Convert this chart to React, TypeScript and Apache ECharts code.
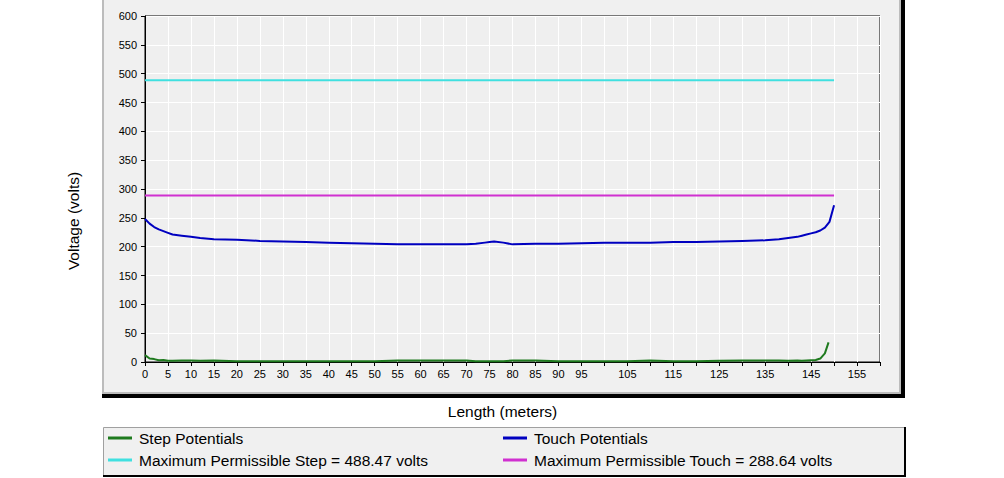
import React, { useEffect, useRef } from "react";
import * as echarts from "echarts";

const touchDistances = [0, 1, 2, 3, 4, 5, 6, 8, 10, 12, 15, 20, 25, 30, 35, 40, 45, 50, 55, 60, 65, 70, 72, 74, 75, 76, 78, 80, 85, 90, 95, 100, 105, 110, 115, 120, 125, 130, 135, 138, 140, 142, 143, 144, 145, 146, 147, 148, 149, 150];
const touchValues = [248, 240, 234, 230, 227, 224, 221, 219, 217, 215, 213, 212, 210, 209, 208, 207, 206, 205, 204, 204, 204, 204, 205, 207, 208, 209, 207, 204, 205, 205, 206, 207, 207, 207, 208, 208, 209, 210, 211, 213, 215, 217, 219, 221, 223, 225, 228, 233, 243, 272];

const stepDistances = [0, 1, 2, 3, 4, 5, 6, 8, 10, 12, 15, 20, 25, 30, 35, 40, 45, 50, 55, 60, 65, 70, 72, 75, 78, 80, 85, 90, 95, 100, 105, 110, 115, 120, 125, 130, 135, 138, 140, 142, 143, 144, 145, 146, 147, 148, 148.8];
const stepValues = [12, 6, 5, 3, 3.5, 2, 2, 2.5, 2.5, 2, 2.5, 1.5, 1.5, 1.5, 1.5, 1.5, 1.5, 1.5, 2.5, 2.5, 2.5, 2.5, 1.5, 1.5, 1.5, 2.5, 2.5, 1.5, 1.5, 1.5, 1.5, 2.5, 1.5, 1.5, 2, 2.5, 2.5, 2.5, 2, 2.5, 2, 2.5, 3, 3.5, 6, 15, 34];

const maxStep = 488.47;
const maxTouch = 288.64;
const limitRange = [0, 150];

const xTickStep = 5;
const yTickStep = 50;

const seriesNames = [
  "Step Potentials",
  "Touch Potentials",
  "Maximum Permissible Step = 488.47 volts",
  "Maximum Permissible Touch = 288.64 volts",
];

const FONT = "Arial, 'Liberation Sans', sans-serif";

export default function App() {
  const ref = useRef<HTMLDivElement>(null);
  useEffect(() => {
    if (!ref.current) return;
    const chart = echarts.init(ref.current, undefined, { renderer: "svg" });
    const pair = (xs: number[], ys: number[]) => xs.map((x, i) => [x, ys[i]]);
    const legendCommon = {
      orient: "vertical",
      top: 430,
      padding: 0,
      itemGap: 6,
      itemWidth: 24,
      itemHeight: 3,
      icon: "rect",
      textStyle: { fontSize: 15.5, color: "#000", fontFamily: FONT, padding: [0, 0, 0, 2] },
    };
    chart.setOption({
      animation: false,
      backgroundColor: "#ffffff",
      textStyle: { fontFamily: FONT },
      graphic: [
        { type: "rect", z: -10, silent: true, shape: { x: 102, y: -5, width: 803, height: 403 }, style: { fill: "#000000" } },
        { type: "rect", z: -9, silent: true, shape: { x: 103, y: -2, width: 797, height: 395 }, style: { fill: "#f0f0f0", stroke: "#bcbcbc", lineWidth: 2 } },
        { type: "rect", z: -10, silent: true, shape: { x: 103.5, y: 427.5, width: 801, height: 48 }, style: { fill: "#f0f0f0", stroke: "#a0a0a0", lineWidth: 1 } },
        { type: "line", z: -9, silent: true, shape: { x1: 103, y1: 476, x2: 905, y2: 476 }, style: { stroke: "#000000", lineWidth: 2 } },
        { type: "line", z: -9, silent: true, shape: { x1: 905, y1: 427, x2: 905, y2: 477 }, style: { stroke: "#000000", lineWidth: 2 } },
      ],
      grid: {
        left: 145,
        top: 16,
        right: 124,
        bottom: 116,
        show: true,
        backgroundColor: "#efefef",
        borderColor: "#000000",
        borderWidth: 1,
      },
      legend: [
        { ...legendCommon, left: 108, data: [seriesNames[0], seriesNames[2]] },
        { ...legendCommon, left: 503, data: [seriesNames[1], seriesNames[3]] },
      ],
      xAxis: {
        type: "value",
        min: 0,
        max: 160,
        interval: xTickStep,
        name: "Length (meters)",
        nameLocation: "middle",
        nameGap: 41,
        nameTextStyle: { fontSize: 15.5, color: "#000", fontFamily: FONT, padding: [0, 20, 0, 0] },
        axisLine: { lineStyle: { color: "#000", width: 1 } },
        axisTick: { show: true, length: 4, lineStyle: { color: "#000" } },
        axisLabel: {
          fontSize: 11,
          color: "#000",
          margin: 6,
          fontFamily: FONT,
          formatter: (v: number) => (v < 100 || v % 10 === 5 ? String(v) : ""),
        },
        splitLine: { show: true, lineStyle: { color: "#ffffff", width: 1 } },
      },
      yAxis: {
        type: "value",
        min: 0,
        max: 600,
        interval: yTickStep,
        name: "Voltage (volts)",
        nameLocation: "middle",
        nameGap: 64,
        nameTextStyle: { fontSize: 15.5, color: "#000", fontFamily: FONT, padding: [0, 64, 0, 0] },
        axisLine: { show: true, lineStyle: { color: "#000", width: 1 } },
        axisTick: { show: true, length: 4, lineStyle: { color: "#000" } },
        axisLabel: { fontSize: 11, color: "#000", margin: 8, fontFamily: FONT },
        splitLine: { show: true, lineStyle: { color: "#ffffff", width: 1 } },
      },
      series: [
        {
          name: seriesNames[0],
          type: "line",
          symbol: "none",
          data: pair(stepDistances, stepValues),
          lineStyle: { color: "#1e7a1e", width: 2 },
          itemStyle: { color: "#1e7a1e" },
          z: 5,
        },
        {
          name: seriesNames[1],
          type: "line",
          symbol: "none",
          data: pair(touchDistances, touchValues),
          lineStyle: { color: "#0000c0", width: 2 },
          itemStyle: { color: "#0000c0" },
          z: 5,
        },
        {
          name: seriesNames[2],
          type: "line",
          symbol: "none",
          data: limitRange.map((x) => [x, maxStep]),
          lineStyle: { color: "#40e0e0", width: 2 },
          itemStyle: { color: "#40e0e0" },
          z: 4,
        },
        {
          name: seriesNames[3],
          type: "line",
          symbol: "none",
          data: limitRange.map((x) => [x, maxTouch]),
          lineStyle: { color: "#d030d0", width: 2 },
          itemStyle: { color: "#d030d0" },
          z: 4,
        },
      ],
    });
    return () => chart.dispose();
  }, []);
  return (
    <div
      ref={ref}
      style={{ position: "fixed", left: 0, top: 0, width: 1004, height: 478 }}
    />
  );
}
